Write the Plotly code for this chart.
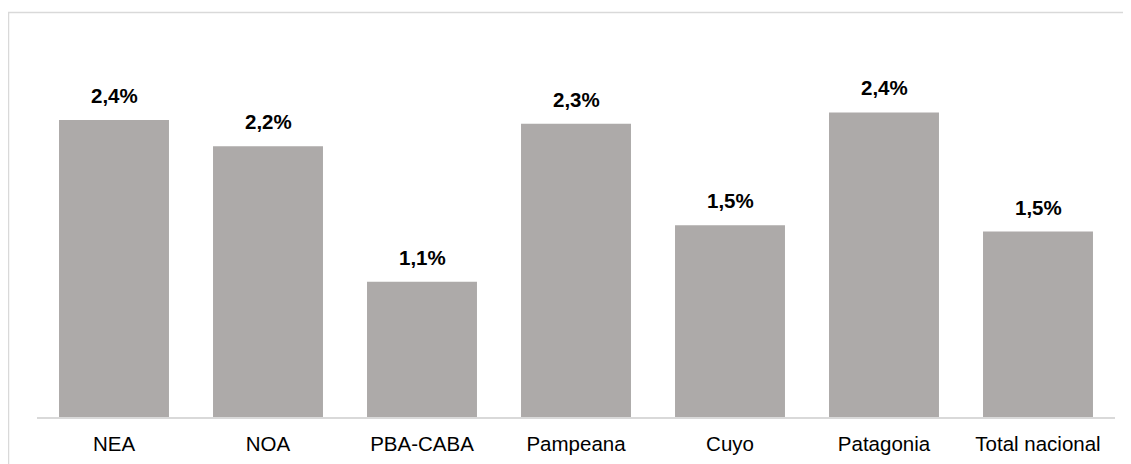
import plotly.graph_objects as go

categories = ["NEA", "NOA", "PBA-CABA", "Pampeana", "Cuyo", "Patagonia", "Total nacional"]
values = [2.37, 2.16, 1.08, 2.34, 1.53, 2.43, 1.48]
labels = ["2,4%", "2,2%", "1,1%", "2,3%", "1,5%", "2,4%", "1,5%"]

FONT = "Liberation Sans, Arial, sans-serif"

fig = go.Figure()
fig.add_trace(go.Bar(
    x=categories, y=values,
    marker=dict(color="#ADAAA9", line=dict(width=0)),
    hoverinfo="skip",
))
for c, v, t in zip(categories, values, labels):
    fig.add_annotation(x=c, y=v, text="<b>%s</b>" % t, showarrow=False,
                       yanchor="bottom", yshift=11,
                       font=dict(family=FONT, size=20.5, color="#000000"))

fig.add_shape(type="rect", xref="paper", yref="paper",
              x0=(8.5 - 37) / 1078, x1=1.05, y0=-0.3, y1=(417 - 12.5) / 376,
              line=dict(color="#D9D9D9", width=1.5), fillcolor="rgba(0,0,0,0)", layer="below")

fig.update_layout(
    width=1131, height=464,
    margin=dict(l=29, r=24, t=33, b=55),
    paper_bgcolor="white", plot_bgcolor="white",
    bargap=0.286,
    showlegend=False,
    font=dict(family=FONT, size=20.5, color="#000000"),
    xaxis=dict(showgrid=False, showline=True, linecolor="#D9D9D9", linewidth=1.5,
               ticks="", tickfont=dict(family=FONT, size=20.5, color="#000000"),
               ticklabelstandoff=8),
    yaxis=dict(range=[0, 3.0], visible=False, showgrid=False, zeroline=False),
)
fig.write_html("out.html")
